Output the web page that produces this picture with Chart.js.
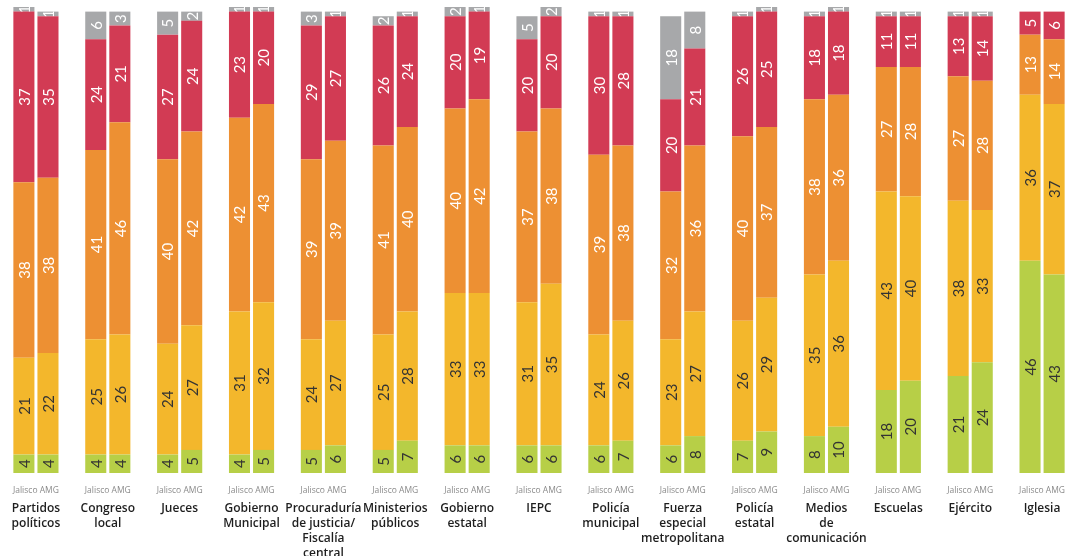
<!DOCTYPE html>
<html lang="es">
<head>
<meta charset="UTF-8">
<title>Confianza en instituciones: Jalisco y AMG</title>
<script src="https://cdn.jsdelivr.net/npm/chart.js"></script>
<style>
  html, body { margin: 0; padding: 0; background: #fff; }
  #wrap { position: relative; width: 1078px; height: 556px; }
</style>
</head>
<body>
<div id="wrap"><canvas id="chart"></canvas></div>
<script>
// categories (multi-line tick labels)
const categories = [
  ['Partidos', 'políticos'], ['Congreso', 'local'], ['Jueces'], ['Gobierno', 'Municipal'],
  ['Procuraduría', 'de justicia/', 'Fiscalía', 'central'], ['Ministerios', 'públicos'],
  ['Gobierno', 'estatal'], ['IEPC'], ['Policía', 'municipal'],
  ['Fuerza', 'especial', 'metropolitana'], ['Policía', 'estatal'],
  ['Medios', 'de', 'comunicación'], ['Escuelas'], ['Ejército'], ['Iglesia']
];
const subLabels = categories.map(() => 'Jalisco AMG');

// values in %, bottom to top
const jaliscoMucha = [4, 4, 4, 4, 5, 5, 6, 6, 6, 6, 7, 8, 18, 21, 46];
const amgMucha     = [4, 4, 5, 5, 6, 7, 6, 6, 7, 8, 9, 10, 20, 24, 43];
const jaliscoAlgo  = [21, 25, 24, 31, 24, 25, 33, 31, 24, 23, 26, 35, 43, 38, 36];
const amgAlgo      = [22, 26, 27, 32, 27, 28, 33, 35, 26, 27, 29, 36, 40, 33, 37];
const jaliscoPoca  = [38, 41, 40, 42, 39, 41, 40, 37, 39, 32, 40, 38, 27, 27, 13];
const amgPoca      = [38, 46, 42, 43, 39, 40, 42, 38, 38, 36, 37, 36, 28, 28, 14];
const jaliscoNada  = [37, 24, 27, 23, 29, 26, 20, 20, 30, 20, 26, 18, 11, 13, 5];
const amgNada      = [35, 21, 24, 20, 27, 24, 19, 20, 28, 21, 25, 18, 11, 14, 6];
const jaliscoNs    = [1, 6, 5, 1, 3, 2, 2, 5, 1, 18, 1, 1, 1, 1, 0];
const amgNs        = [1, 3, 2, 1, 1, 1, 1, 2, 1, 8, 1, 1, 1, 1, 0];

const GREEN = '#b7cf47', YELLOW = '#f3b72c', ORANGE = '#ed9033', RED = '#d23b54', GRAY = '#a7a8aa';

function ds(label, data, stack, color, textColor) {
  return { label, data, stack, backgroundColor: color, textColor, borderWidth: 0,
           categoryPercentage: 0.67, barPercentage: 0.875 };
}

const datasets = [
  ds('Mucha', jaliscoMucha, 'Jalisco', GREEN, '#333'),
  ds('Mucha', amgMucha, 'AMG', GREEN, '#333'),
  ds('Algo', jaliscoAlgo, 'Jalisco', YELLOW, '#333'),
  ds('Algo', amgAlgo, 'AMG', YELLOW, '#333'),
  ds('Poca', jaliscoPoca, 'Jalisco', ORANGE, '#fff'),
  ds('Poca', amgPoca, 'AMG', ORANGE, '#fff'),
  ds('Nada', jaliscoNada, 'Jalisco', RED, '#fff'),
  ds('Nada', amgNada, 'AMG', RED, '#fff'),
  ds('No sabe', jaliscoNs, 'Jalisco', GRAY, '#fff'),
  ds('No sabe', amgNs, 'AMG', GRAY, '#fff')
];

// rotated value labels inside each segment
const segmentLabels = {
  id: 'segmentLabels',
  afterDatasetsDraw(chart) {
    const ctx = chart.ctx;
    chart.data.datasets.forEach((d, i) => {
      const meta = chart.getDatasetMeta(i);
      meta.data.forEach((bar, j) => {
        const v = d.data[j];
        if (!v) return;
        const top = Math.min(bar.y, bar.base), bottom = Math.max(bar.y, bar.base);
        ctx.save();
        ctx.beginPath();
        ctx.rect(bar.x - bar.width / 2, top, bar.width, bottom - top);
        ctx.clip();
        ctx.translate(bar.x, (top + bottom) / 2);
        ctx.rotate(-Math.PI / 2);
        ctx.fillStyle = d.textColor;
        ctx.font = '15px Lato';
        ctx.textAlign = 'center';
        ctx.textBaseline = 'middle';
        ctx.fillText(String(v), 0, 1);
        ctx.restore();
      });
    });
  }
};

new Chart(document.getElementById('chart'), {
  type: 'bar',
  data: { labels: categories, datasets },
  options: {
    responsive: true,
    maintainAspectRatio: false,
    animation: false,
    layout: { padding: { top: 7, left: 0, right: 0, bottom: 0 } },
    plugins: { legend: { display: false }, tooltip: { enabled: false } },
    scales: {
      x: {
        labels: subLabels,
        stacked: true,
        weight: 1,
        grid: { display: false, drawTicks: false },
        border: { display: false },
        ticks: { autoSkip: false, maxRotation: 0, minRotation: 0, padding: 12,
                 color: '#8a8a8a', font: { family: 'Open Sans', size: 8.5 } },
        afterFit(scale) { scale.height = 23; }
      },
      x2: {
        type: 'category',
        position: 'bottom',
        labels: categories,
        offset: true,
        weight: 2,
        grid: { display: false, drawTicks: false },
        border: { display: false },
        ticks: { autoSkip: false, maxRotation: 0, minRotation: 0, padding: 5,
                 color: '#1e1e1e', font: { family: 'Open Sans', size: 12, weight: '600', lineHeight: 1.25 } },
        afterFit(scale) { scale.height = 60; }
      },
      y: {
        stacked: true,
        display: false,
        min: 0,
        max: 101
      }
    }
  },
  plugins: [segmentLabels]
});
</script>
</body>
</html>
